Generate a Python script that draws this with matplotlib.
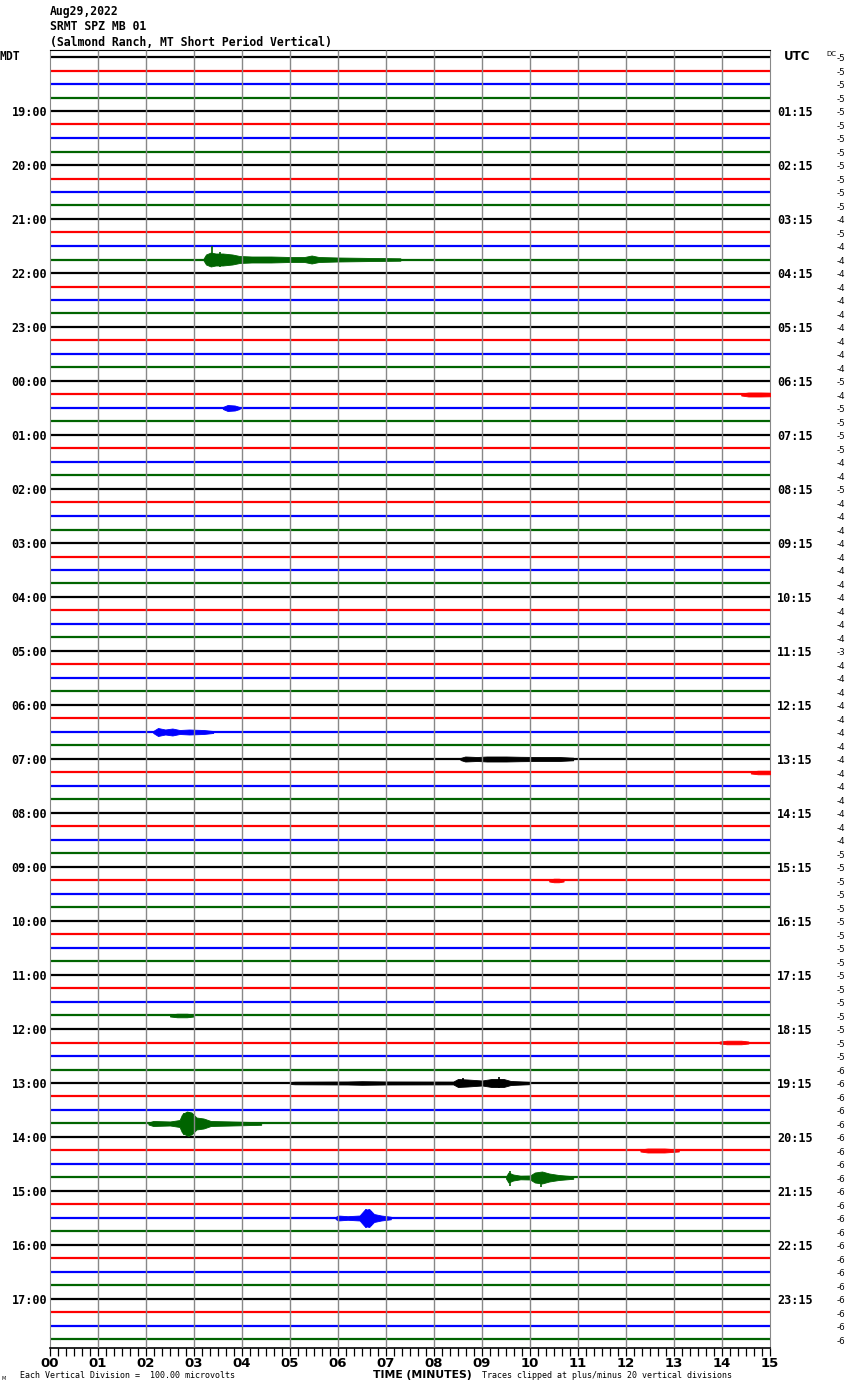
import numpy as np
import matplotlib.pyplot as plt
import matplotlib.transforms as mtransforms

W, H = 850, 1390

# 96 fifteen-minute lines, 18:00 MDT through 17:45 MDT
n_lines = 96
line_colors = ['#000000', '#ff0000', '#0000ff', '#006400']

mdt_labels = ['19:00', '20:00', '21:00', '22:00', '23:00', '00:00', '01:00',
              '02:00', '03:00', '04:00', '05:00', '06:00', '07:00', '08:00',
              '09:00', '10:00', '11:00', '12:00', '13:00', '14:00', '15:00',
              '16:00', '17:00']
utc_labels = ['01:15', '02:15', '03:15', '04:15', '05:15', '06:15', '07:15',
              '08:15', '09:15', '10:15', '11:15', '12:15', '13:15', '14:15',
              '15:15', '16:15', '17:15', '18:15', '19:15', '20:15', '21:15',
              '22:15', '23:15']

dc_values = [-5, -5, -5, -5, -5, -5, -5, -5, -5, -5, -5, -5,
             -4, -5, -4, -4, -4, -4, -4, -4, -4, -4, -4, -4,
             -5, -4, -5, -5, -5, -5, -4, -4, -5, -4, -4, -4,
             -4, -4, -4, -4, -4, -4, -4, -4, -3, -4, -4, -4,
             -4, -4, -4, -4, -4, -4, -4, -4, -4, -4, -4, -5,
             -5, -5, -5, -5, -5, -5, -5, -5, -5, -5, -5, -5,
             -5, -5, -5, -6, -6, -6, -6, -6, -6, -6, -6, -6,
             -6, -6, -6, -6, -6, -6, -6, -6, -6, -6, -6, -6]

minute_labels = ['00', '01', '02', '03', '04', '05', '06', '07', '08',
                 '09', '10', '11', '12', '13', '14', '15']

# recorded events: line index, minutes, half amplitude (pixels, 13.5 px per line)
event_lines = [15, 26, 50, 52, 76, 79, 83, 86, 25, 53, 81, 73, 71, 61]
event_minutes = [
    [3.20, 3.25, 3.35, 3.45, 3.60, 3.80, 3.95, 4.20, 4.60, 5.00, 5.30, 5.45, 5.60, 6.00, 6.60, 7.30],
    [3.60, 3.70, 3.85, 3.95],
    [2.15, 2.25, 2.40, 2.55, 2.70, 2.90, 3.20, 3.40],
    [8.55, 8.65, 8.90, 9.10, 9.50, 9.80, 10.20, 10.60, 10.90],
    [5.00, 5.10, 6.20, 6.50, 7.00, 8.40, 8.50, 8.70, 9.00, 9.20, 9.45, 9.60, 10.00],
    [2.05, 2.15, 2.50, 2.70, 2.75, 2.85, 2.95, 3.05, 3.20, 3.35, 3.80, 4.40],
    [9.50, 9.55, 9.65, 9.80, 10.00, 10.10, 10.25, 10.40, 10.60, 10.90],
    [5.95, 6.00, 6.20, 6.45, 6.55, 6.65, 6.75, 6.90, 7.10],
    [14.40, 14.55, 14.80, 15.00],
    [14.60, 14.75, 14.90, 15.00],
    [12.30, 12.45, 12.80, 13.10],
    [13.95, 14.10, 14.40, 14.55],
    [2.50, 2.65, 2.85, 3.00],
    [10.40, 10.50, 10.60, 10.70],
]
event_amps = [
    [1, 5, 7, 6, 6, 5, 3.5, 3, 3, 2.5, 2.5, 4, 2.5, 2, 1.6, 1.2],
    [1, 3, 2.5, 1],
    [1, 4, 2.5, 3.5, 2, 2.5, 2, 1],
    [1, 2.5, 2, 2.5, 2.5, 2.2, 2, 2, 1.3],
    [1, 1.3, 1.5, 1.8, 1.5, 1.4, 4, 3.5, 2.5, 4, 4, 2, 1.2],
    [1, 2.5, 2, 3.5, 9, 12, 11, 6, 5, 2.5, 2, 1.3],
    [1, 5, 3, 1.8, 2, 5, 6, 4, 2.5, 1.3],
    [1, 2.5, 1.8, 2.5, 8, 9, 4, 2.5, 1.3],
    [1, 2, 2, 1.8],
    [1, 1.8, 1.8, 1.8],
    [1, 2, 2, 1],
    [1, 1.8, 1.8, 1],
    [1, 1.8, 1.8, 1],
    [1, 1.8, 1.8, 1],
]
# single large spikes: line, minute, up px, down px
spike_lines = [15, 15, 79, 79, 79, 86, 86, 83, 83, 76, 76]
spike_minutes = [3.375, 3.55, 2.80, 2.90, 3.00, 6.58, 6.68, 9.58, 10.22, 8.60, 9.35]
spike_up = [13, 7, 10, 12, 9, 9, 7, 6, 5, 5, 6]
spike_down = [4, 7, 12, 14, 10, 10, 8, 8, 9, 4, 5]

px = 1 / 13.5

fig = plt.figure(figsize=(W / 100, H / 100), dpi=100)
ax = fig.add_axes([50 / W, 1 - 1348 / H, 720 / W, 1298 / H])
ax.set_xlim(0, 15)
ax.set_ylim((1348 - 57) / 13.5, (50 - 57) / 13.5)

# minute grid, drawn over the traces
ax.vlines(np.arange(1, 15), *ax.get_ylim(), colors='#888888', lw=1.0, zorder=5)

# base traces
for i in range(n_lines):
    ax.hlines(i, 0, 15, colors=line_colors[i % 4], lw=1.6, zorder=2)

# events
for ln, mins, amps in zip(event_lines, event_minutes, event_amps):
    a = np.array(amps) * px
    ax.fill_between(mins, ln - a, ln + a, color=line_colors[ln % 4], lw=0.6, zorder=3)

for ln, m, up, dn in zip(spike_lines, spike_minutes, spike_up, spike_down):
    ax.vlines(m, ln - up * px, ln + dn * px, colors=line_colors[ln % 4], lw=1.2, zorder=3)

# frame
for side in ['left', 'right']:
    ax.spines[side].set_color('#888888')
ax.spines['top'].set_color('black')
ax.spines['bottom'].set_color('black')
ax.spines['bottom'].set_linewidth(1.2)

ax.set_xticks(np.arange(0, 16))
ax.set_xticklabels(minute_labels, fontsize=9.5, fontweight='bold', family='DejaVu Sans')
ax.set_xticks(np.arange(0, 15.01, 1 / 6), minor=True)
ax.tick_params(axis='x', which='both', direction='out', length=6, width=0.9, pad=0.5)

hour_lines = np.arange(4, n_lines, 4)
ax.set_yticks(hour_lines)
ax.set_yticklabels(mdt_labels, fontsize=8.5, fontweight='bold', family='DejaVu Sans Mono')
ax.tick_params(axis='y', length=0, pad=2)

ax2 = ax.twinx()
ax2.set_ylim(ax.get_ylim())
ax2.set_yticks(hour_lines)
ax2.set_yticklabels(utc_labels, fontsize=8.5, fontweight='bold', family='DejaVu Sans Mono')
ax2.tick_params(axis='y', length=0, pad=5)
for s in ax2.spines.values():
    s.set_visible(False)

# DC offsets at right
tr = mtransforms.blended_transform_factory(fig.transFigure, ax.transData)
for i, v in enumerate(dc_values):
    ax.text(845 / W, i + 0.12, str(v), transform=tr, ha='right', va='center',
            fontsize=6.3, family='DejaVu Sans', clip_on=False)
fig.text(826 / W, 1 - 54 / H, 'DC', fontsize=5, ha='left', va='center')


def ftext(x, y, s, **kw):
    fig.text(x / W, 1 - y / H, s, **kw)


mono = dict(family='DejaVu Sans Mono', fontweight='bold', fontsize=8.3, va='center')
ftext(50, 12, 'Aug29,2022', **mono)
ftext(50, 27, 'SRMT SPZ MB 01', **mono)
ftext(50, 42, '(Salmond Ranch, MT Short Period Vertical)', **mono)
ftext(0, 57, 'MDT', **mono)
ftext(784, 57, 'UTC', family='DejaVu Sans', fontweight='bold', fontsize=8.5, va='center')

small = dict(family='DejaVu Sans Mono', fontsize=6, va='center')
ftext(20, 1376, 'Each Vertical Division =  100.00 microvolts', **small)
ftext(373, 1375, 'TIME (MINUTES)', fontsize=7.8, fontweight='bold', va='center')
ftext(482, 1376, 'Traces clipped at plus/minus 20 vertical divisions', **small)
ftext(2, 1379, 'M', fontsize=3.5, va='center')

fig.savefig('out.png', dpi=100)
